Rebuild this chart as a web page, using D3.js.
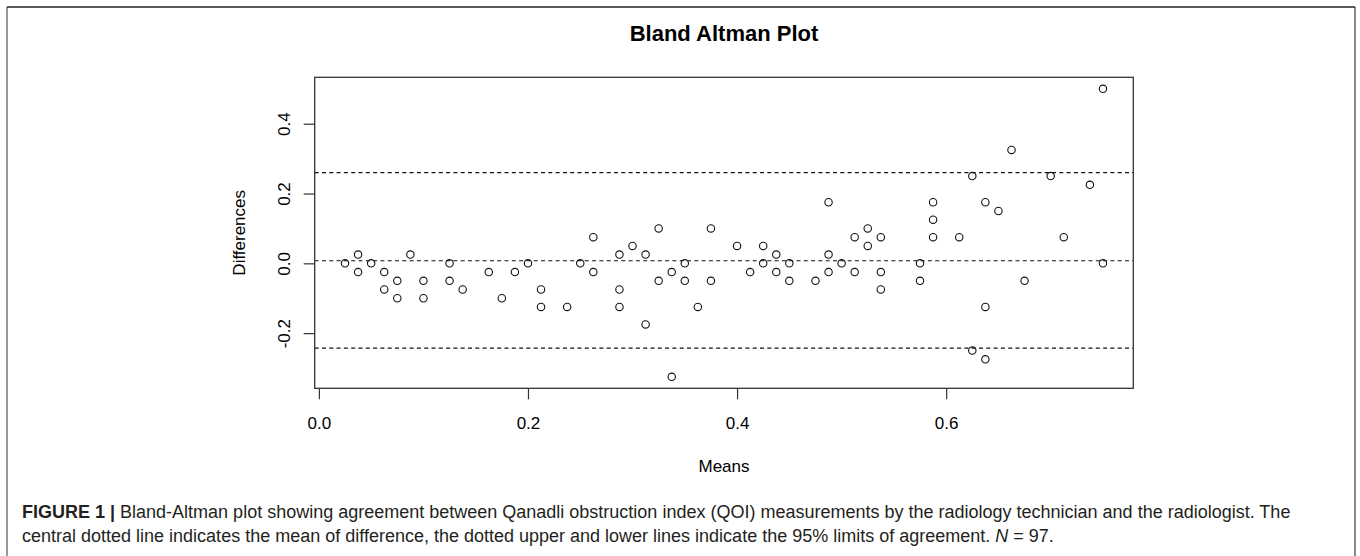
<!DOCTYPE html>
<html>
<head>
<meta charset="utf-8">
<script src="https://d3js.org/d3.v7.min.js"></script>
<style>
  body { margin: 0; background: #fff; }
  svg { display: block; font-family: "Liberation Sans", Arial, sans-serif; }
</style>
</head>
<body>
<div id="chart"></div>
<script>
// Bland-Altman data (mean of the two readings, difference)
const means = [
  0.025, 0.0375, 0.0375, 0.05, 0.0625, 0.0625, 0.075, 0.075, 0.0875, 0.1,
  0.1, 0.125, 0.125, 0.1375, 0.1625, 0.175, 0.1875, 0.2, 0.2125, 0.2125,
  0.2375, 0.25, 0.2625, 0.2625, 0.2875, 0.2875, 0.2875, 0.3, 0.3125, 0.3125,
  0.325, 0.325, 0.3375, 0.3375, 0.35, 0.35, 0.3625, 0.375, 0.375, 0.4,
  0.4125, 0.425, 0.425, 0.4375, 0.4375, 0.45, 0.45, 0.475, 0.4875, 0.4875,
  0.4875, 0.5, 0.5125, 0.5125, 0.525, 0.525, 0.5375, 0.5375, 0.5375, 0.575,
  0.575, 0.5875, 0.5875, 0.5875, 0.6125, 0.625, 0.625, 0.6375, 0.6375, 0.6375,
  0.65, 0.6625, 0.675, 0.7, 0.7125, 0.7375, 0.75, 0.75
];
const diffs = [
  0, 0.025, -0.025, 0, -0.025, -0.075, -0.05, -0.1, 0.025, -0.05,
  -0.1, 0, -0.05, -0.075, -0.025, -0.1, -0.025, 0, -0.075, -0.125,
  -0.125, 0, 0.075, -0.025, 0.025, -0.075, -0.125, 0.05, 0.025, -0.175,
  0.1, -0.05, -0.025, -0.325, 0, -0.05, -0.125, 0.1, -0.05, 0.05,
  -0.025, 0.05, 0, 0.025, -0.025, 0, -0.05, -0.05, 0.175, 0.025,
  -0.025, 0, 0.075, -0.025, 0.1, 0.05, 0.075, -0.025, -0.075, 0,
  -0.05, 0.175, 0.125, 0.075, 0.075, 0.25, -0.25, 0.175, -0.125, -0.275,
  0.15, 0.325, -0.05, 0.25, 0.075, 0.225, 0.5, 0
];
// mean difference and 95% limits of agreement
const refLines = [0.26, 0.0074, -0.243];
const xTicks = [0, 0.2, 0.4, 0.6];
const yTicks = [-0.2, 0, 0.2, 0.4];

const W = 1360, H = 556;
const box = { left: 314.7, right: 1133.3, top: 77.3, bottom: 388.3 };
const fmt = d => d.toFixed(1); // plain hyphen like R

const svg = d3.select("#chart").append("svg")
  .attr("width", W).attr("height", H);

// outer figure frame (open at the bottom)
svg.append("path")
  .attr("d", `M7,${H} V7`)
  .attr("stroke", "#777").attr("stroke-width", 1.5).attr("fill", "none");
svg.append("path")
  .attr("d", `M1355,${H} V7`)
  .attr("stroke", "#888").attr("stroke-width", 2).attr("fill", "none");
svg.append("path")
  .attr("d", `M7,7 H1355`)
  .attr("stroke", "#222").attr("stroke-width", 1.5).attr("fill", "none");

// R style 4% padding of the ranges
function padded(vals) {
  const [a, b] = d3.extent(vals);
  const p = (b - a) * 0.04;
  return [a - p, b + p];
}

const x = d3.scaleLinear().domain(padded(means)).range([box.left, box.right]);
const y = d3.scaleLinear().domain(padded(diffs)).range([box.bottom, box.top]);

// title
svg.append("text")
  .attr("x", (box.left + box.right) / 2).attr("y", 40.7)
  .attr("text-anchor", "middle")
  .style("font-size", "22px").style("font-weight", "bold")
  .style("fill", "#000")
  .text("Bland Altman Plot");

// x axis
const gx = svg.append("g")
  .attr("transform", `translate(0,${box.bottom})`)
  .call(d3.axisBottom(x).tickValues(xTicks).tickFormat(fmt).tickSize(11).tickPadding(0));
gx.select(".domain").remove();
gx.selectAll("line").attr("stroke", "#333").attr("stroke-width", 1.2);
gx.selectAll("text")
  .attr("y", 41).attr("dy", 0)
  .style("font-size", "17px").style("fill", "#000")
  .style("font-family", "Liberation Sans, Arial, sans-serif");

// y axis
const gy = svg.append("g")
  .attr("transform", `translate(${box.left},0)`)
  .call(d3.axisLeft(y).tickValues(yTicks).tickFormat(fmt).tickSize(11));
gy.select(".domain").remove();
gy.selectAll("line").attr("stroke", "#333").attr("stroke-width", 1.2);
gy.selectAll("text")
  .attr("x", 0).attr("dy", 0)
  .attr("transform", "translate(-25,0) rotate(-90)")
  .attr("text-anchor", "middle")
  .style("font-size", "17px").style("fill", "#000")
  .style("font-family", "Liberation Sans, Arial, sans-serif");

// axis titles
svg.append("text")
  .attr("x", (box.left + box.right) / 2).attr("y", 472)
  .attr("text-anchor", "middle")
  .style("font-size", "17px").style("fill", "#000")
  .text("Means");
svg.append("text")
  .attr("transform", `translate(245,${(box.top + box.bottom) / 2}) rotate(-90)`)
  .attr("text-anchor", "middle")
  .style("font-size", "17px").style("fill", "#000")
  .text("Differences");

// reference lines
svg.append("g").selectAll("line")
  .data(refLines)
  .join("line")
  .attr("x1", box.left).attr("x2", box.right)
  .attr("y1", d => y(d)).attr("y2", d => y(d))
  .attr("stroke", "#111").attr("stroke-width", 1.1)
  .attr("stroke-dasharray", "4,3.3");

// points
svg.append("g").selectAll("circle")
  .data(means.map((m, i) => ({ m, d: diffs[i] })))
  .join("circle")
  .attr("cx", d => x(d.m))
  .attr("cy", d => y(d.d))
  .attr("r", 3.7)
  .attr("fill", "none")
  .attr("stroke", "#111")
  .attr("stroke-width", 1.1);

// plot box
svg.append("rect")
  .attr("x", box.left).attr("y", box.top)
  .attr("width", box.right - box.left).attr("height", box.bottom - box.top)
  .attr("fill", "none").attr("stroke", "#333").attr("stroke-width", 1.3);

// caption
const cap = svg.append("g")
  .style("font-size", "18px").style("fill", "#231f20");
const l1 = cap.append("text").attr("x", 22).attr("y", 517.5);
l1.append("tspan").style("font-weight", "bold").text("FIGURE 1 | ");
l1.append("tspan").text("Bland-Altman plot showing agreement between Qanadli obstruction index (QOI) measurements by the radiology technician and the radiologist. The");
const l2 = cap.append("text").attr("x", 22).attr("y", 541.5);
l2.append("tspan").text("central dotted line indicates the mean of difference, the dotted upper and lower lines indicate the 95% limits of agreement. ");
l2.append("tspan").style("font-style", "italic").text("N");
l2.append("tspan").text(" = 97.");
</script>
</body>
</html>
